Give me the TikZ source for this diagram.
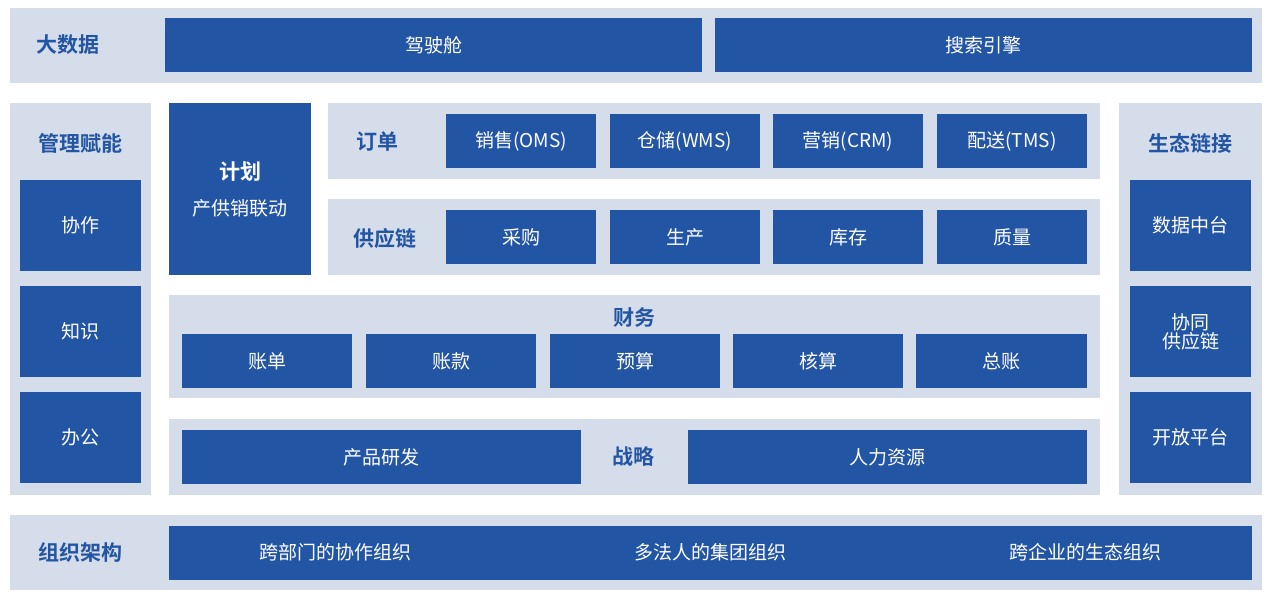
\documentclass[tikz,border=0pt]{standalone}
\usepackage{fontspec}
\setmainfont{Noto Sans CJK SC}[BoldFont={Noto Sans CJK SC Bold}]
\definecolor{db}{HTML}{2355A5}
\definecolor{lp}{HTML}{D5DDEA}
\tikzset{
 dbox/.style={fill=db,draw=none,text=white,font=\fontsize{19}{22}\selectfont,anchor=north west,inner sep=0pt,outer sep=0pt,align=center},
 pan/.style={fill=lp,draw=none,anchor=north west,inner sep=0pt,outer sep=0pt},
 lab/.style={text=db,font=\bfseries\fontsize{21}{24}\selectfont,inner sep=0pt}
}
\newcommand{\bx}[7]{\node[#1,minimum width=#4pt-#2pt,minimum height=#5pt-#3pt] (#6) at (#2,#3) {#7};}
\begin{document}
\begin{tikzpicture}[x=1pt,y=-1pt]
\useasboundingbox (0,0) rectangle (1271,599);
% panels
\bx{pan}{10}{8}{1262}{83}{ptop}{}
\bx{pan}{10}{103}{151}{495}{pleft}{}
\bx{pan}{1119}{103}{1262}{495}{pright}{}
\bx{pan}{328}{103}{1100}{179}{porder}{}
\bx{pan}{328}{199}{1100}{275}{psupply}{}
\bx{pan}{169}{295}{1100}{398}{pfin}{}
\bx{pan}{169}{419}{1100}{495}{pstrat}{}
\bx{pan}{10}{515}{1262}{590}{pbot}{}
% labels
\node[lab] (l1) at (68,45) {大数据};
\node[lab] (l2) at (80,143) {管理赋能};
\node[lab] (l3) at (1190,143) {生态链接};
\node[lab] (l4) at (377,142) {订单};
\node[lab] (l5) at (385,238) {供应链};
\node[lab] (l6) at (634,317) {财务};
\node[lab] (l7) at (633,457) {战略};
\node[lab] (l8) at (80,552) {组织架构};
% top
\bx{dbox}{165}{18}{702}{72}{b1}{驾驶舱}
\bx{dbox}{715}{18}{1252}{72}{b2}{搜索引擎}
% left / right
\bx{dbox}{20}{180}{141}{271}{b3}{协作}
\bx{dbox}{20}{286}{141}{377}{b4}{知识}
\bx{dbox}{20}{392}{141}{483}{b5}{办公}
\bx{dbox}{1130}{180}{1251}{271}{b6}{数据中台}
\bx{dbox}{1130}{286}{1251}{377}{b7}{协同\\[-3pt]供应链}
\bx{dbox}{1130}{392}{1251}{483}{b8}{开放平台}
% plan
\bx{dbox}{169}{103}{311}{275}{b9}{}
\node[text=white,font=\bfseries\fontsize{21}{24}\selectfont] (p1) at (240,172) {计划};
\node[text=white,font=\fontsize{19}{22}\selectfont] (p2) at (240,208) {产供销联动};
% order
\bx{dbox}{446}{114}{596}{168}{o1}{销售(OMS)}
\bx{dbox}{610}{114}{760}{168}{o2}{仓储(WMS)}
\bx{dbox}{773}{114}{923}{168}{o3}{营销(CRM)}
\bx{dbox}{937}{114}{1087}{168}{o4}{配送(TMS)}
% supply
\bx{dbox}{446}{210}{596}{264}{s1}{采购}
\bx{dbox}{610}{210}{760}{264}{s2}{生产}
\bx{dbox}{773}{210}{923}{264}{s3}{库存}
\bx{dbox}{937}{210}{1087}{264}{s4}{质量}
% finance
\bx{dbox}{182}{334}{352}{388}{f1}{账单}
\bx{dbox}{366}{334}{536}{388}{f2}{账款}
\bx{dbox}{550}{334}{720}{388}{f3}{预算}
\bx{dbox}{733}{334}{903}{388}{f4}{核算}
\bx{dbox}{916}{334}{1087}{388}{f5}{总账}
% strategy
\bx{dbox}{182}{430}{581}{484}{t1}{产品研发}
\bx{dbox}{688}{430}{1087}{484}{t2}{人力资源}
% bottom
\bx{dbox}{169}{526}{1252}{580}{g0}{}
\node[text=white,font=\fontsize{19}{22}\selectfont] (g1) at (335,552) {跨部门的协作组织};
\node[text=white,font=\fontsize{19}{22}\selectfont] (g2) at (710,552) {多法人的集团组织};
\node[text=white,font=\fontsize{19}{22}\selectfont] (g3) at (1085,552) {跨企业的生态组织};
\end{tikzpicture}
\end{document}
